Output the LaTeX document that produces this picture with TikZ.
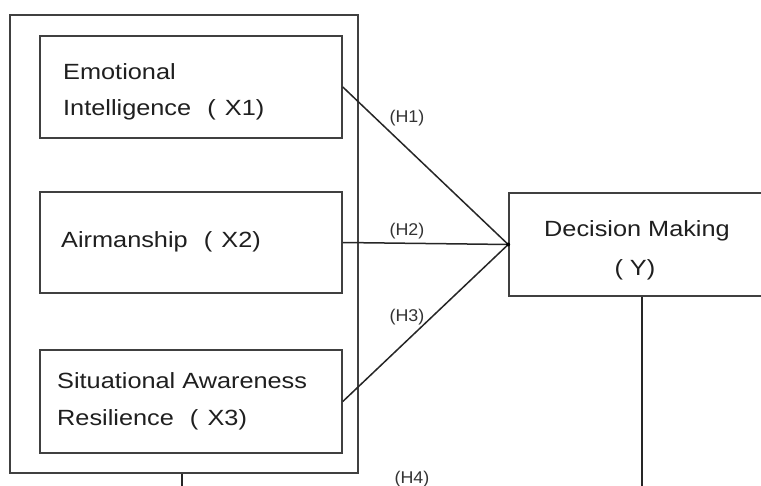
\documentclass[tikz,border=0pt]{standalone}
\usepackage{fontspec}
\setmainfont{Liberation Sans}
\usepackage{graphicx}
\newcommand{\wtxt}[1]{\scalebox{1.15}[1]{#1}}
\newcommand{\wlab}[1]{\scalebox{1.05}[1]{#1}}
\begin{document}
\begin{tikzpicture}[x=1pt,y=-1pt,
  box/.style={draw=black!75,line width=1.6pt,rectangle,inner sep=0pt,anchor=center},
  txt/.style={anchor=base west,inner sep=0pt,text=black!88,font=\fontsize{22}{26}\selectfont},
  ctxt/.style={anchor=base,inner sep=0pt,text=black!88,font=\fontsize{22}{26}\selectfont},
  lab/.style={anchor=base,inner sep=0pt,text=black!80,font=\fontsize{17}{20}\selectfont},
  link/.style={draw=black!85,line width=1.5pt}]
\useasboundingbox (0,0) rectangle (761,486);
\fill[white] (0,0) rectangle (761,486);
\clip (0,0) rectangle (761,486);
% outer group box
\node[box,minimum width=348pt,minimum height=458pt] (outer) at (184,244) {};
% inner boxes
\node[box,minimum width=302pt,minimum height=102pt] (b1) at (191,87) {};
\node[box,minimum width=302pt,minimum height=101pt] (b2) at (191,242.5) {};
\node[box,minimum width=302pt,minimum height=103pt] (b3) at (191,401.5) {};
% decision making box (runs past the right edge)
\node[box,minimum width=266pt,minimum height=103pt] (dm) at (642,244.5) {};
% texts
\node[txt] (t1a) at (63,80) {\wtxt{Emotional}};
\node[txt] (t1b) at (63,116) {\wtxt{Intelligence\hspace{14pt}(\hspace{8pt}X1)}};
\node[txt] (t2) at (61,248) {\wtxt{Airmanship\hspace{14pt}(\hspace{8pt}X2)}};
\node[txt] (t3a) at (57,389) {\wtxt{Situational Awareness}};
\node[txt] (t3b) at (57,425) {\wtxt{Resilience\hspace{14pt}(\hspace{8pt}X3)}};
\node[ctxt] (tda) at (637,237) {\wtxt{Decision Making}};
\node[ctxt] (tdb) at (635,276) {\wtxt{(\hspace{6pt}Y)}};
% connectors
\draw[link] (b1.east) -- (dm.west);
\draw[link] (b2.east) -- (dm.west);
\draw[link] (b3.east) -- (dm.west);
\fill[black] (dm.west) circle (2pt);
\coordinate (e1) at (642,486);
\coordinate (e2) at (182,486);
\draw[link] (dm.south) -- (e1);
\draw[link] (outer.south -| e2) -- (e2);
% labels
\node[lab] (h1) at (407,123) {\wlab{(H1)}};
\node[lab] (h2) at (407,236) {\wlab{(H2)}};
\node[lab] (h3) at (407,322) {\wlab{(H3)}};
\node[lab] (h4) at (412,483) {\wlab{(H4)}};
\end{tikzpicture}
\end{document}
